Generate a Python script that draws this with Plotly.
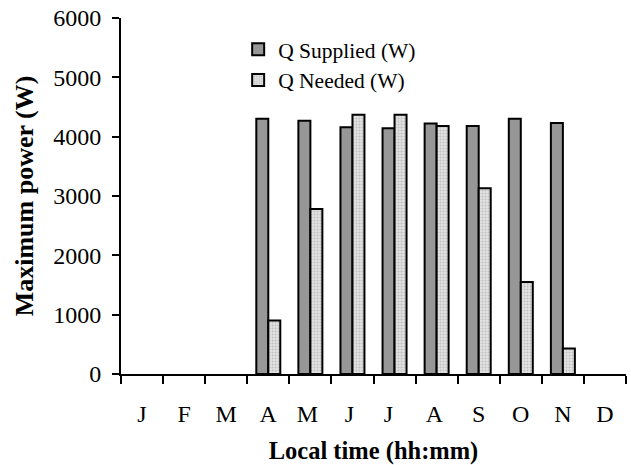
import plotly.graph_objects as go

months = ["J", "F", "M", "A", "M ", "J ", "J  ", "A ", "S", "O", "N", "D"]
q_supplied = [None, None, None, 4300, 4270, 4160, 4140, 4220, 4180, 4300, 4230, None]
q_needed = [None, None, None, 900, 2780, 4370, 4370, 4180, 3130, 1550, 430, None]

font_family = "Liberation Serif, Times New Roman, serif"

fig = go.Figure()
fig.add_trace(go.Bar(
    x=months, y=q_supplied, name="Q Supplied (W)",
    marker=dict(color="#979797", line=dict(color="black", width=2)),
))
fig.add_trace(go.Bar(
    x=months, y=q_needed, name="Q Needed (W)",
    marker=dict(
        color="#d9d9d9",
        line=dict(color="black", width=2),
        pattern=dict(shape=".", fgcolor="#9a9a9a", bgcolor="#e2e2e2", size=3, solidity=0.35),
    ),
))

fig.update_layout(
    width=631, height=465,
    margin=dict(l=121, r=5, t=18, b=91),
    paper_bgcolor="white", plot_bgcolor="white",
    barmode="group", bargap=0.43, bargroupgap=0,
    font=dict(family=font_family, size=22, color="black"),
    showlegend=True,
    legend=dict(
        x=0.232, y=0.97, xanchor="left", yanchor="top",
        bgcolor="rgba(0,0,0,0)", font=dict(size=21.5, family=font_family),
        itemsizing="constant", tracegroupgap=0,
    ),
    xaxis=dict(
        type="category", tickson="boundaries", automargin=False,
        showline=True, linecolor="black", linewidth=2,
        ticks="outside", ticklen=8, tickwidth=2, tickcolor="black",
        ticklabelstandoff=17,
        showgrid=False, zeroline=False,
        title=dict(text="<b>Local time (hh:mm)</b>", font=dict(size=24.5, family=font_family), standoff=16),
        tickfont=dict(size=24, family=font_family),
    ),
    yaxis=dict(
        range=[0, 6000], tickvals=[0, 1000, 2000, 3000, 4000, 5000, 6000],
        automargin=False,
        showline=True, linecolor="black", linewidth=2,
        ticks="outside", ticklen=7, tickwidth=2, tickcolor="black",
        ticklabelstandoff=6,
        showgrid=False, zeroline=False,
        title=dict(text="<b>Maximum power (W)</b>", font=dict(size=26, family=font_family), standoff=12),
        tickfont=dict(size=24, family=font_family),
    ),
)

fig.write_html("out.html")
